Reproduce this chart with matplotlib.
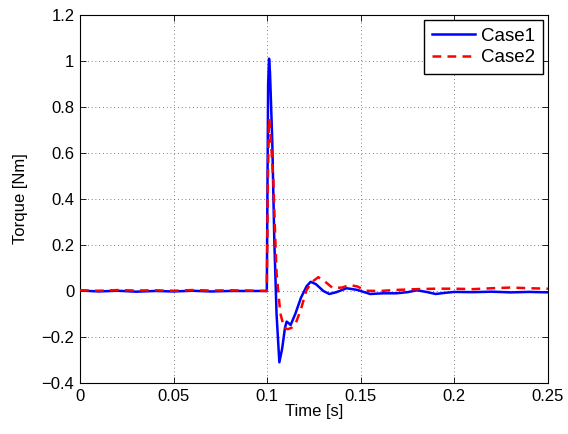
# Torque response for two cases, MATLAB-style line plot
import numpy as np
import matplotlib
matplotlib.use('Agg')
import matplotlib.pyplot as plt
from matplotlib.ticker import FuncFormatter

plt.rcParams['font.family'] = ['Liberation Sans', 'DejaVu Sans']

# Case1 (blue, solid)
t1 = [0, 0.01, 0.02, 0.03, 0.04, 0.05, 0.06, 0.07, 0.08, 0.09, 0.0998,
      0.1005, 0.101, 0.1015, 0.1027, 0.1038, 0.105, 0.1065, 0.108, 0.1095,
      0.1104, 0.1115, 0.1125, 0.115, 0.118, 0.121, 0.1232, 0.126, 0.13,
      0.1332, 0.137, 0.1424, 0.148, 0.155, 0.162, 0.169, 0.175, 0.18, 0.185,
      0.19, 0.195, 0.2, 0.21, 0.22, 0.23, 0.24, 0.25]
v1 = [0.002, -0.002, 0.001, -0.003, 0.0, -0.002, 0.001, -0.002, 0.0, 0.0, 0.0,
      0.9, 1.01, 0.95, 0.655, 0.22, -0.1, -0.31, -0.25, -0.16,
      -0.133, -0.14, -0.148, -0.1, -0.03, 0.02, 0.04, 0.03, 0.0,
      -0.013, -0.005, 0.012, 0.005, -0.013, -0.01, -0.01, -0.005, 0.003, -0.004,
      -0.013, -0.008, -0.004, -0.005, -0.003, -0.006, -0.004, -0.006]

# Case2 (red, dashed)
t2 = [0, 0.01, 0.02, 0.03, 0.04, 0.05, 0.06, 0.07, 0.08, 0.09, 0.0998,
      0.1004, 0.101, 0.102, 0.1033, 0.104, 0.105, 0.107, 0.109, 0.111, 0.113,
      0.1149, 0.118, 0.121, 0.124, 0.1273, 0.131, 0.135, 0.14, 0.144, 0.148,
      0.153, 0.16, 0.17, 0.18, 0.19, 0.2, 0.21, 0.22, 0.23, 0.24, 0.25]
v2 = [0.003, 0.001, 0.004, 0.002, 0.003, 0.001, 0.004, 0.002, 0.003, 0.002, 0.0,
      0.5, 0.75, 0.65, 0.48, 0.3, 0.078, -0.096, -0.16, -0.166, -0.16,
      -0.148, -0.08, 0.004, 0.04, 0.06, 0.04, 0.013, 0.015, 0.026, 0.02,
      0.001, 0.0, 0.005, 0.008, 0.01, 0.01, 0.008, 0.012, 0.015, 0.012, 0.01]

xticks = [0, 0.05, 0.1, 0.15, 0.2, 0.25]
yticks = [-0.4, -0.2, 0, 0.2, 0.4, 0.6, 0.8, 1, 1.2]

fig = plt.figure(figsize=(5.68, 4.34), dpi=100)
ax = fig.add_axes([0.1408, 0.1175, 0.824, 0.848])

ax.plot(t1, v1, color='#0000ff', lw=1.8, label='Case1', zorder=3)
ax.plot(t2, v2, color='#ff0000', lw=1.8, ls=(0, (3.5, 2.5)), label='Case2', zorder=4)

ax.set_xlim(0, 0.25)
ax.set_ylim(-0.4, 1.2)
ax.set_xticks(xticks)
ax.set_yticks(yticks)
fmt = FuncFormatter(lambda v, p: ('%g' % v).replace('-', '\u2212'))
ax.xaxis.set_major_formatter(fmt)
ax.yaxis.set_major_formatter(fmt)
ax.tick_params(direction='in', top=True, right=True, labelsize=12, length=4, width=0.6, pad=4)
ax.grid(True, linestyle=(0, (1, 3.5)), color='#555555', lw=0.6)
for s in ax.spines.values():
    s.set_linewidth(0.8)

ax.set_xlabel('Time [s]', fontsize=12, labelpad=0)
ax.set_ylabel('Torque [Nm]', fontsize=12, labelpad=10)

leg = ax.legend(loc='upper right', fontsize=13.5, fancybox=False, framealpha=1,
                edgecolor='black', borderaxespad=0.27, handlelength=2.3,
                borderpad=0.42, labelspacing=0.22, handletextpad=0.3)
leg.get_frame().set_linewidth(1.0)

fig.savefig('out.png', dpi=100)
